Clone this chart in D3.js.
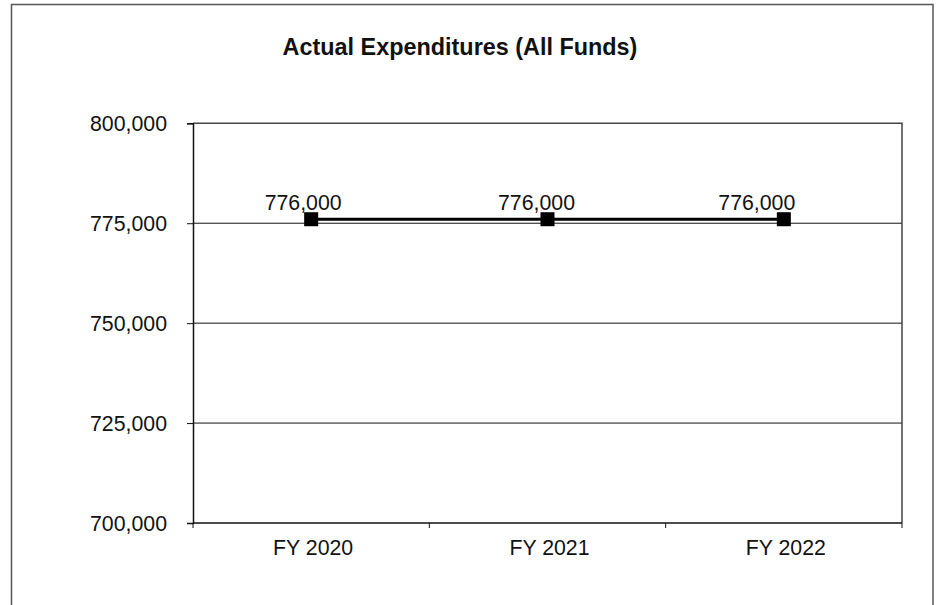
<!DOCTYPE html>
<html><head><meta charset="utf-8">
<script src="https://cdn.jsdelivr.net/npm/d3@7"></script>
<style>
html,body{margin:0;padding:0;background:#fff;}
svg{display:block;font-family:"Liberation Sans",Arial,sans-serif;}
</style></head>
<body>
<script>
const categories = ["FY 2020", "FY 2021", "FY 2022"];
const values = [776000, 776000, 776000];
const yTicks = [700000, 725000, 750000, 775000, 800000];
const title = "Actual Expenditures (All Funds)";

const W = 941, H = 605;
const plot = {left: 193, right: 902, top: 123.3, bottom: 523};
const svg = d3.select("body").append("svg").attr("width", W).attr("height", H);

// outer chart border
svg.append("rect").attr("x", 11.5).attr("y", 4.5).attr("width", 921.5).attr("height", 640)
  .attr("fill", "none").attr("stroke", "#555").attr("stroke-width", 1.5);

const x = d3.scaleBand().domain(categories).range([plot.left, plot.right]).padding(0);
const y = d3.scaleLinear().domain([700000, 800000]).range([plot.bottom, plot.top]);
const fmt = d3.format(",");

// gridlines
svg.append("g").selectAll("line").data(yTicks.filter(d => d > 700000 && d < 800000)).join("line")
  .attr("x1", plot.left).attr("x2", plot.right)
  .attr("y1", d => y(d)).attr("y2", d => y(d))
  .attr("stroke", "#111").attr("stroke-width", 1);

// plot area border (top/right)
svg.append("path")
  .attr("d", `M${plot.left},${y(800000)}H${plot.right}V${plot.bottom}`)
  .attr("fill", "none").attr("stroke", "#444").attr("stroke-width", 1.5);

// y axis
const yAxis = d3.axisLeft(y).tickValues(yTicks).tickFormat(fmt).tickSize(6).tickPadding(20);
const gy = svg.append("g").attr("transform", `translate(${plot.left},0)`).call(yAxis);
gy.select(".domain").attr("stroke", "#111").attr("stroke-width", 1.5);
gy.selectAll(".tick line").attr("stroke", "#111");
gy.selectAll(".tick text").attr("font-size", 21.3).attr("fill", "#111")
  .attr("font-family", "'Liberation Sans', Arial, sans-serif").attr("dy", "0.34em");

// x axis
const gx = svg.append("g").attr("transform", `translate(0,${plot.bottom})`);
gx.append("line").attr("x1", plot.left).attr("x2", plot.right).attr("y1", 0).attr("y2", 0)
  .attr("stroke", "#111").attr("stroke-width", 1.5);
const bounds = categories.map(c => x(c)).concat([x(categories[categories.length - 1]) + x.bandwidth()]);
gx.selectAll("line.tk").data(bounds).join("line").attr("class", "tk")
  .attr("x1", d => d).attr("x2", d => d).attr("y1", 0).attr("y2", 5)
  .attr("stroke", "#111");
gx.selectAll("text").data(categories).join("text")
  .attr("x", d => x(d) + x.bandwidth() / 2 + 2).attr("y", 32)
  .attr("text-anchor", "middle").attr("font-size", 21.3).attr("fill", "#111")
  .text(d => d);

// line
const cx = d => x(d) + x.bandwidth() / 2;
const pts = categories.map((c, i) => [cx(c), y(values[i])]);
svg.append("path").attr("d", d3.line()(pts)).attr("fill", "none")
  .attr("stroke", "#000").attr("stroke-width", 3);

// markers
svg.append("g").selectAll("rect").data(pts).join("rect")
  .attr("x", d => d[0] - 7).attr("y", d => d[1] - 7).attr("width", 14).attr("height", 14)
  .attr("fill", "#000");

// data labels
const labelShift = [-8, -11, -27];
svg.append("g").selectAll("text").data(values).join("text")
  .attr("x", (d, i) => pts[i][0] + labelShift[i]).attr("y", (d, i) => pts[i][1] - 9)
  .attr("text-anchor", "middle").attr("font-size", 21.3).attr("fill", "#111")
  .text(d => fmt(d));

// title
svg.append("text").attr("x", 460).attr("y", 54.5).attr("text-anchor", "middle")
  .attr("font-size", 23.4).attr("font-weight", "bold").attr("fill", "#111").text(title);
</script>
</body></html>
